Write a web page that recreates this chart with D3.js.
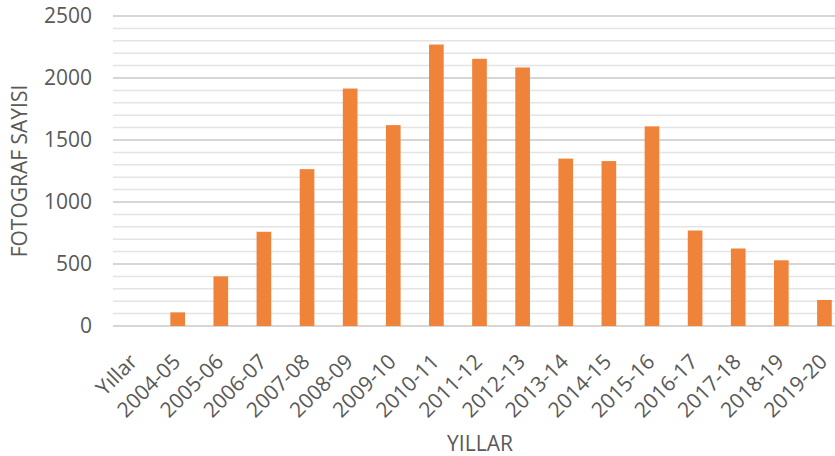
<!DOCTYPE html>
<html>
<head>
<meta charset="utf-8">
<script src="https://cdn.jsdelivr.net/npm/d3@7"></script>
<style>
  body { margin: 0; background: #fff; }
  svg { display: block; }
</style>
</head>
<body>
<script>
// data
var years = ["Yıllar", "2004-05", "2005-06", "2006-07", "2007-08", "2008-09", "2009-10",
  "2010-11", "2011-12", "2012-13", "2013-14", "2014-15", "2015-16", "2016-17",
  "2017-18", "2018-19", "2019-20"];
var counts = [0, 110, 400, 760, 1265, 1915, 1620, 2270, 2155, 2085, 1350, 1330, 1610, 770, 625, 530, 210];
var yTicks = [0, 500, 1000, 1500, 2000, 2500];
var minorTicks = d3.range(0, 2501, 100);

var width = 835, height = 456;
var plotLeft = 113, plotRight = 846, plotTop = 16, plotBottom = 326;

var svg = d3.select("body").append("svg")
  .attr("width", width)
  .attr("height", height);

var x = d3.scaleBand()
  .domain(years)
  .range([plotLeft, plotRight])
  .paddingInner(0.66)
  .paddingOuter(0.33);

var y = d3.scaleLinear()
  .domain([0, 2500])
  .range([plotBottom, plotTop]);

// minor gridlines
svg.append("g").selectAll("line")
  .data(minorTicks.filter(function (d) { return d % 500 != 0; }))
  .enter().append("line")
  .attr("x1", plotLeft).attr("x2", width)
  .attr("y1", function (d) { return y(d); })
  .attr("y2", function (d) { return y(d); })
  .attr("stroke", "#e4e4e4")
  .attr("stroke-width", 1.5);

// major gridlines
svg.append("g").selectAll("line")
  .data(yTicks)
  .enter().append("line")
  .attr("x1", plotLeft).attr("x2", width)
  .attr("y1", function (d) { return y(d); })
  .attr("y2", function (d) { return y(d); })
  .attr("stroke", "#c8c8c8")
  .attr("stroke-width", 1.5);

// bars
svg.append("g").selectAll("rect")
  .data(counts)
  .enter().append("rect")
  .attr("x", function (d, i) { return x(years[i]); })
  .attr("width", x.bandwidth())
  .attr("y", function (d) { return y(d); })
  .attr("height", function (d) { return plotBottom - y(d); })
  .attr("fill", "#f0833a");

// y axis labels
var yAxis = svg.append("g")
  .attr("transform", "translate(" + (plotLeft - 21) + ",0)")
  .call(d3.axisLeft(y).tickValues(yTicks).tickFormat(d3.format("d")).tickSize(0).tickPadding(0));
yAxis.select(".domain").remove();
yAxis.selectAll("text")
  .attr("font-family", "Open Sans")
  .attr("font-size", 21)
  .attr("fill", "#595959");

// x axis labels, rotated
var xAxis = svg.append("g")
  .attr("transform", "translate(0," + plotBottom + ")")
  .call(d3.axisBottom(x).tickSize(0).tickPadding(0));
xAxis.select(".domain").remove();
xAxis.selectAll("text")
  .attr("font-family", "Open Sans")
  .attr("font-size", 21)
  .attr("fill", "#595959")
  .attr("text-anchor", "end")
  .attr("dy", null)
  .attr("transform", "translate(4,37) rotate(-45)");

// axis titles
svg.append("text")
  .attr("transform", "translate(27,171) rotate(-90)")
  .attr("text-anchor", "middle")
  .attr("font-family", "Open Sans")
  .attr("font-size", 21)
  .attr("fill", "#595959")
  .text("FOTOGRAF SAYISI");

svg.append("text")
  .attr("x", 480)
  .attr("y", 451)
  .attr("text-anchor", "middle")
  .attr("font-family", "Open Sans")
  .attr("font-size", 21)
  .attr("fill", "#595959")
  .text("YILLAR");
</script>
</body>
</html>
